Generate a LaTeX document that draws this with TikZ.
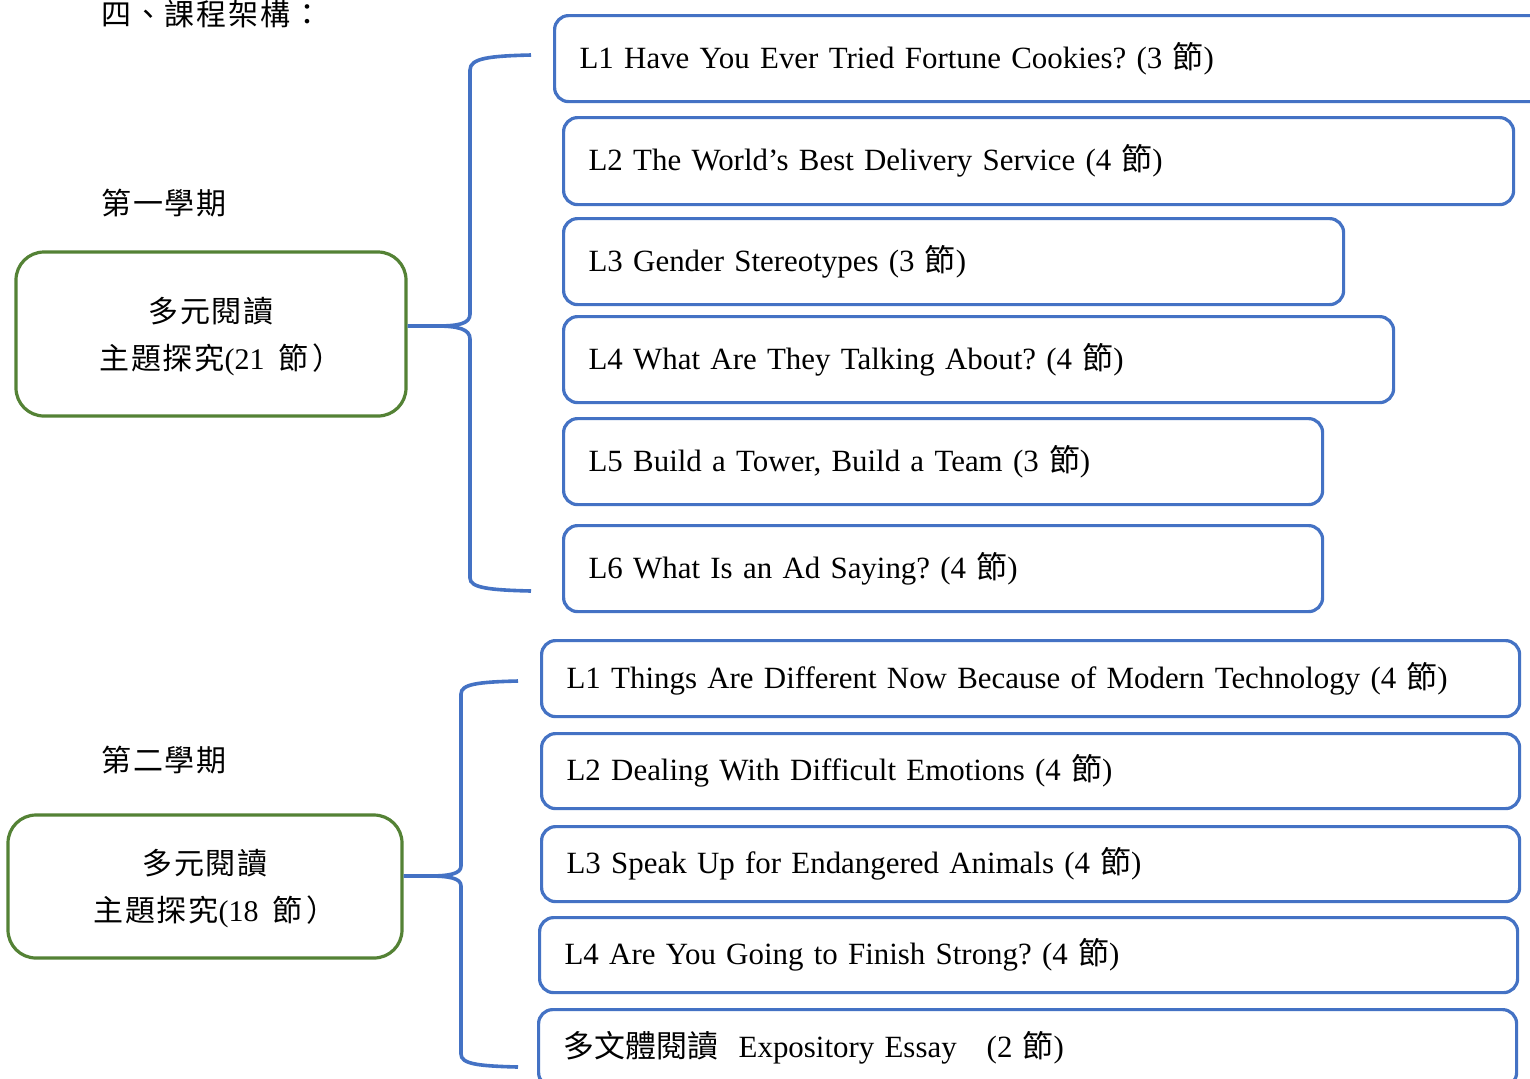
\documentclass[tikz,border=0pt]{standalone}
\usepackage{fontspec}
\setmainfont{Liberation Serif}
\newfontfamily\cjk{Noto Sans CJK TC}
\newfontfamily\cjkwide[LetterSpace=6]{Noto Sans CJK TC}
\definecolor{lblue}{HTML}{4472C4}
\definecolor{lgreen}{HTML}{548235}
\newcommand\lessonbox[6]{%
  \pgfmathsetmacro\bw{(#4-#2)*0.5}%
  \pgfmathsetmacro\bh{(#5-#3)*0.5}%
  \pgfmathsetmacro\tw{(#4-#2)*0.5-25}%
  \node[lbox, minimum height=\bh pt, text width=\tw pt, anchor=north west] (#1) at (#2,-#3) {#6};%
}
\begin{document}
\frenchspacing
\begin{tikzpicture}[x=0.5pt,y=0.5pt,
  lbox/.style={draw=lblue, line width=1.6pt, rounded corners=7pt, inner xsep=12.5pt, inner ysep=0pt, align=left, font=\fontsize{15.45}{18}\selectfont\frenchspacing},
  gbox/.style={draw=lgreen, line width=1.6pt, rounded corners=14pt, align=center, font=\fontsize{15}{23.5}\selectfont\cjkwide, inner sep=0pt},
  gtext/.style={align=center, font=\fontsize{15}{23.5}\selectfont\cjkwide, inner sep=0pt},
  lbl/.style={font=\fontsize{15}{18}\selectfont\cjkwide, anchor=west, inner sep=0pt},
  brace/.style={draw=lblue, line width=1.8pt}]
\useasboundingbox (0,0) rectangle (1530,-1078);
\clip (0,0) rectangle (1530,-1078);
\fill[white] (0,0) rectangle (1530,-1078);

\node[lbl] (title) at (101,-14) {四、課程架構：};
\node[lbl] (sem1) at (101,-203) {第一學期};
\node[lbl] (sem2) at (101,-760) {第二學期};

% semester 1
\node[gbox, minimum width=195pt, minimum height=82pt] (g1) at (211,-334) {};
\node[gtext] (g1t) at (211,-337) {多元閱讀\\\kern10pt主題探究{\rmfamily(21}\hspace{7pt}節\hspace{2pt}）};
\lessonbox{a1}{553}{14}{1570}{100}{L1 Have You Ever Tried Fortune Cookies? (3 {\cjk 節})}
\lessonbox{a2}{562}{116}{1512}{203}{L2 The World’s Best Delivery Service (4 {\cjk 節})}
\lessonbox{a3}{562}{217}{1342}{303}{L3 Gender Stereotypes (3 {\cjk 節})}
\lessonbox{a4}{562}{315}{1392}{401}{L4 What Are They Talking About? (4 {\cjk 節})}
\lessonbox{a5}{562}{417}{1321}{503}{L5 Build a Tower, Build a Team (3 {\cjk 節})}
\lessonbox{a6}{562}{524}{1321}{610}{L6 What Is an Ad Saying? (4 {\cjk 節})}

\coordinate (b1top) at (531,-55);
\coordinate (b1bot) at (531,-591);
\coordinate (b1tip) at (g1.east |- 0,-326);
\draw[brace] (b1top) .. controls (490,-56) and (470,-58) .. (470,-70)
  -- (470,-314) .. controls (470,-324) and (458,-326) .. (436,-326) -- (b1tip);
\draw[brace] (b1bot) .. controls (490,-590) and (470,-588) .. (470,-578)
  -- (470,-339) .. controls (470,-329) and (458,-326) .. (436,-326);

% semester 2
\node[gbox, minimum width=197pt, minimum height=71.5pt] (g2) at (205,-886.5) {};
\node[gtext] (g2t) at (205,-889) {多元閱讀\\\kern10pt主題探究{\rmfamily(18}\hspace{7pt}節\hspace{2pt}）};
\lessonbox{c1}{540}{639}{1518}{715}{L1 Things Are Different Now Because of Modern Technology (4 {\cjk 節})}
\lessonbox{c2}{540}{732}{1518}{807}{L2 Dealing With Difficult Emotions (4 {\cjk 節})}
\lessonbox{c3}{540}{825}{1518}{900}{L3 Speak Up for Endangered Animals (4 {\cjk 節})}
\lessonbox{c4}{538}{916}{1516}{991}{L4 Are You Going to Finish Strong? (4 {\cjk 節})}
\lessonbox{c5}{537}{1008}{1515}{1085}{{\cjk 多文體閱讀}\ \ Expository Essay\hspace{15pt}(2 {\cjk 節})}

\coordinate (b2top) at (518,-681);
\coordinate (b2bot) at (518,-1067);
\coordinate (b2tip) at (g2.east |- 0,-876);
\draw[brace] (b2top) .. controls (478,-682) and (461,-684) .. (461,-694)
  -- (461,-866) .. controls (461,-874) and (449,-876) .. (428,-876) -- (b2tip);
\draw[brace] (b2bot) .. controls (478,-1066) and (461,-1064) .. (461,-1054)
  -- (461,-886) .. controls (461,-878) and (449,-876) .. (428,-876);
\end{tikzpicture}
\end{document}
